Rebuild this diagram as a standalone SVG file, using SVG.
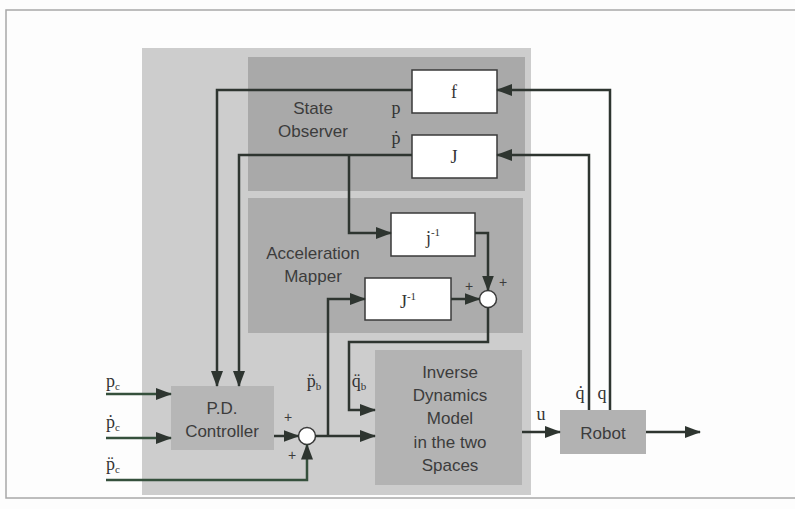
<svg xmlns="http://www.w3.org/2000/svg" width="795" height="509" viewBox="0 0 795 509">
<defs>
<marker id="arr" markerUnits="userSpaceOnUse" markerWidth="16" markerHeight="12" refX="15" refY="6" orient="auto">
<path d="M0,0 L16,6 L0,12 z" fill="#2e3530"/>
</marker>
<style>
.ln{fill:none;stroke:#2e3530;stroke-width:2.5;marker-end:url(#arr)}
.grn{stroke:#35503c}
.box{fill:#ffffff;stroke:#3a3a3a;stroke-width:1.5}
.lbl{font-family:"Liberation Sans",Arial,sans-serif;font-size:17px;fill:#3c3c3c;text-anchor:middle}
.pl{font-size:14px}
.mth{font-family:"Liberation Serif","Times New Roman",serif;font-size:18px;fill:#333333;text-anchor:middle}
.sub{font-size:11px}
.sum{fill:#ffffff;stroke:#3a3a3a;stroke-width:1.5}
</style>
</defs>
<rect x="0" y="0" width="795" height="509" fill="#fdfdfd"/>
<rect x="6" y="10" width="800" height="488" fill="none" stroke="#a8a8a8" stroke-width="1.5"/>
<rect x="142" y="48" width="389" height="447" fill="#cdcdcd"/>

<g id="state-observer">
<rect x="248" y="57" width="277" height="134" fill="#a9a9a9"/>
<text class="lbl" x="313" y="114">State</text>
<text class="lbl" x="313" y="137">Observer</text>
</g>
<g id="acceleration-mapper">
<rect x="248" y="198" width="275" height="135" fill="#acacac"/>
<text class="lbl" x="313" y="259">Acceleration</text>
<text class="lbl" x="313" y="282">Mapper</text>
</g>

<g id="f">
<rect class="box" x="412" y="70" width="85" height="43"/>
<text class="mth" x="454" y="98">f</text>
</g>
<g id="J">
<rect class="box" x="412" y="135" width="85" height="43"/>
<text class="mth" x="454" y="163">J</text>
</g>
<g id="jinv-top">
<rect class="box" x="391" y="213" width="84" height="43"/>
<text class="mth" x="433" y="244">j<tspan dy="-8" class="sub">-1</tspan></text>
</g>
<g id="jinv-bottom">
<rect class="box" x="365" y="278" width="86" height="42"/>
<text class="mth" x="408" y="308">J<tspan dy="-8" class="sub">-1</tspan></text>
</g>
<g id="sum-accel">
<circle class="sum" cx="488" cy="299" r="8.5"/>
<text class="lbl pl" x="469" y="291">+</text>
<text class="lbl pl" x="503" y="287">+</text>
</g>
<g id="pd-controller">
<rect x="171" y="386" width="103" height="64" fill="#b6b6b6"/>
<text class="lbl" x="222" y="414">P.D.</text>
<text class="lbl" x="222" y="437">Controller</text>
</g>
<g id="sum-pd">
<circle class="sum" cx="307" cy="436" r="8.5"/>
<text class="lbl pl" x="288" y="422">+</text>
<text class="lbl pl" x="292" y="460">+</text>
</g>
<g id="inverse-dynamics">
<rect x="375" y="350" width="147" height="135" fill="#b3b3b3"/>
<text class="lbl" x="450" y="378">Inverse</text>
<text class="lbl" x="450" y="401">Dynamics</text>
<text class="lbl" x="450" y="424">Model</text>
<text class="lbl" x="450" y="448">in the two</text>
<text class="lbl" x="450" y="471">Spaces</text>
</g>
<g id="robot">
<rect x="560" y="410" width="86" height="44" fill="#b2b2b2"/>
<text class="lbl" x="603" y="439">Robot</text>
</g>

<g id="connectors">
<path class="ln" d="M412,90 H217 V386"/>
<path class="ln" d="M412,155 H239 V386"/>
<path class="ln" d="M349,155 V233 H391"/>
<path class="ln" d="M610,410 V90 H497"/>
<path class="ln" d="M589,410 V155 H497"/>
<path class="ln" d="M475,233 H488 V290.5"/>
<path class="ln" d="M451,299 H479.5"/>
<path class="ln" d="M488,307.5 V342 H349 V410 H375"/>
<path class="ln" d="M274,436 H298.5"/>
<path class="ln" d="M315.5,436 H375"/>
<path class="ln" d="M328,436 V299 H365"/>
<path class="ln grn" d="M106,394 H171"/>
<path class="ln grn" d="M106,438 H171"/>
<path class="ln grn" d="M106,480 H307 V444.5"/>
<path class="ln" d="M522,432 H560"/>
<path class="ln" d="M646,432 H700"/>
</g>

<g id="labels">
<text class="mth" x="396" y="114">p</text>
<text class="mth" x="396" y="144">ṗ</text>
<text class="mth" x="113" y="387">p<tspan class="sub" dy="3">c</tspan></text>
<text class="mth" x="113" y="428">ṗ<tspan class="sub" dy="3">c</tspan></text>
<text class="mth" x="113" y="470">p̈<tspan class="sub" dy="3">c</tspan></text>
<text class="mth" x="314" y="387">p̈<tspan class="sub" dy="3">b</tspan></text>
<text class="mth" x="359" y="387">q̈<tspan class="sub" dy="3">b</tspan></text>
<text class="mth" x="541" y="420">u</text>
<text class="mth" x="580" y="399">q̇</text>
<text class="mth" x="602" y="399">q</text>
</g>
</svg>
